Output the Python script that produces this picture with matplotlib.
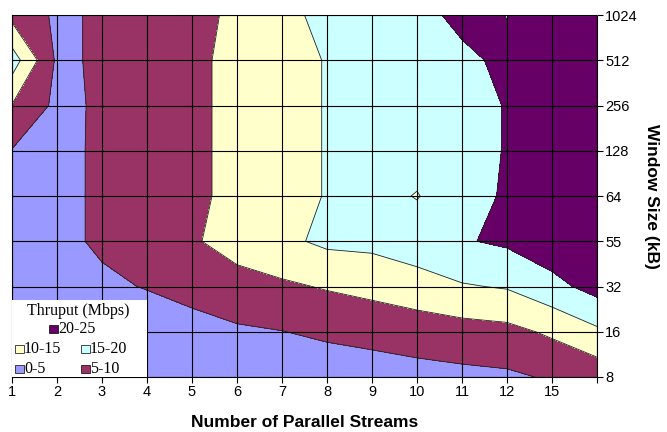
import matplotlib

matplotlib.use("Agg")
import matplotlib.patches as mpatches
import matplotlib.pyplot as plt
import numpy as np

plt.rcParams["font.family"] = ["Liberation Sans", "DejaVu Sans"]

# x: number of parallel streams (last column has no label), y: TCP window size
STREAMS = ["1", "2", "3", "4", "5", "6", "7", "8", "9", "10", "11", "12", "15", ""]
WINDOW_KB = ["8", "16", "32", "55", "64", "128", "256", "512", "1024"]

# throughput (Mbps), one list per window size, one value per stream count
tput_8 = [1.0, 1.5, 2.0, 2.2, 2.3, 2.5, 2.5, 2.0, 2.3, 3.1, 3.8, 4.2, 5.5, 6.8]
tput_16 = [1.5, 2.0, 3.0, 2.7, 2.8, 4.2, 4.9, 5.9, 6.8, 7.6, 8.0, 8.6, 10.8, 14.1]
tput_32 = [2.0, 3.0, 4.3, 5.2, 7.0, 8.7, 9.2, 10.4, 11.4, 12.6, 14.6, 15.4, 18.5, 21.8]
tput_55 = [2.5, 4.0, 5.6, 7.5, 9.6, 11.4, 13.9, 16.0, 16.3, 18.1, 19.6, 20.8, 23.0, 23.5]
tput_64 = [3.0, 4.0, 5.6, 7.5, 9.2, 11.0, 13.5, 15.2, 17.0, 14.7, 19.0, 20.3, 23.5, 24.0]
tput_128 = [4.8, 4.0, 5.6, 7.5, 9.2, 11.0, 13.5, 15.2, 17.0, 17.5, 18.6, 20.2, 23.5, 24.0]
tput_256 = [9.8, 3.9, 5.6, 7.5, 9.2, 11.0, 13.5, 15.2, 17.0, 17.5, 18.5, 20.2, 23.5, 24.0]
tput_512 = [17.5, 4.2, 5.6, 7.5, 9.2, 11.0, 13.5, 15.2, 17.0, 17.5, 19.0, 21.0, 23.5, 24.0]
tput_1024 = [8.5, 4.2, 5.6, 7.5, 8.9, 10.7, 14.0, 16.0, 17.0, 18.5, 21.2, 19.9, 23.5, 24.0]

BANDS = [0, 5, 10, 15, 20, 25]
BAND_LABELS = ["0-5", "5-10", "10-15", "15-20", "20-25"]
BAND_COLORS = ["#9999FF", "#993366", "#FFFFCC", "#CCFFFF", "#660066"]

Z = np.array(
    [tput_8, tput_16, tput_32, tput_55, tput_64, tput_128, tput_256, tput_512, tput_1024]
)
xs = np.arange(len(STREAMS))
ys = np.arange(len(WINDOW_KB))

fig = plt.figure(figsize=(6.67, 4.32), dpi=100)
ax = fig.add_axes([12 / 667, 1 - 377 / 432, 585 / 667, 362 / 432])

ax.contourf(xs, ys, Z, levels=BANDS, colors=BAND_COLORS, zorder=1)
ax.contour(xs, ys, Z, levels=BANDS[1:-1], colors="#222222", linewidths=0.6, zorder=1.5)

ax.set_xlim(xs[0], xs[-1])
ax.set_ylim(ys[0], ys[-1])
ax.set_xticks(xs)
ax.set_xticklabels(STREAMS, fontsize=10.5)
ax.set_yticks(ys)
ax.set_yticklabels(WINDOW_KB, fontsize=10.5)
ax.yaxis.tick_right()
ax.yaxis.set_label_position("right")
ax.tick_params(direction="out", length=4, width=0.8, color="black", pad=2)

ax.grid(True, color="black", linewidth=0.8)
ax.set_axisbelow(False)

for side in ("left", "bottom", "right"):
    ax.spines[side].set_color("black")
    ax.spines[side].set_linewidth(0.8)
ax.spines["top"].set_color("#808080")
ax.spines["top"].set_linewidth(0.8)

ax.set_xlabel("Number of Parallel Streams", fontsize=12.5, fontweight="bold", labelpad=11)
ax.set_ylabel("Window Size (kB)", fontsize=12.5, fontweight="bold", rotation=270,
              labelpad=15)

# legend box in the lower left corner of the plot
W, H = 585.0, 362.0
box = mpatches.Rectangle((0, 0), 135 / W, 77 / H, transform=ax.transAxes,
                         facecolor="white", edgecolor="none", zorder=5, clip_on=False)
ax.add_patch(box)
ax.text(66 / W, 66 / H, "Thruput (Mbps)", transform=ax.transAxes, ha="center",
        va="center", fontsize=11.5, family="Liberation Serif", zorder=6)

sq = 8.5
# (band index, square left px, row center px from bottom)
entries = [(4, 37, 48), (2, 3, 28), (3, 69, 28), (0, 3, 8), (1, 69, 8)]
for k, px, py in entries:
    ax.add_patch(mpatches.Rectangle((px / W, (py - sq / 2) / H), sq / W, sq / H,
                                    transform=ax.transAxes, facecolor=BAND_COLORS[k],
                                    edgecolor="black", linewidth=0.5, zorder=6,
                                    clip_on=False))
    ax.text((px + sq + 0.5) / W, py / H, BAND_LABELS[k], transform=ax.transAxes,
            ha="left", va="center", fontsize=11.5, family="Liberation Serif", zorder=6)

fig.savefig("out.png", dpi=100)
